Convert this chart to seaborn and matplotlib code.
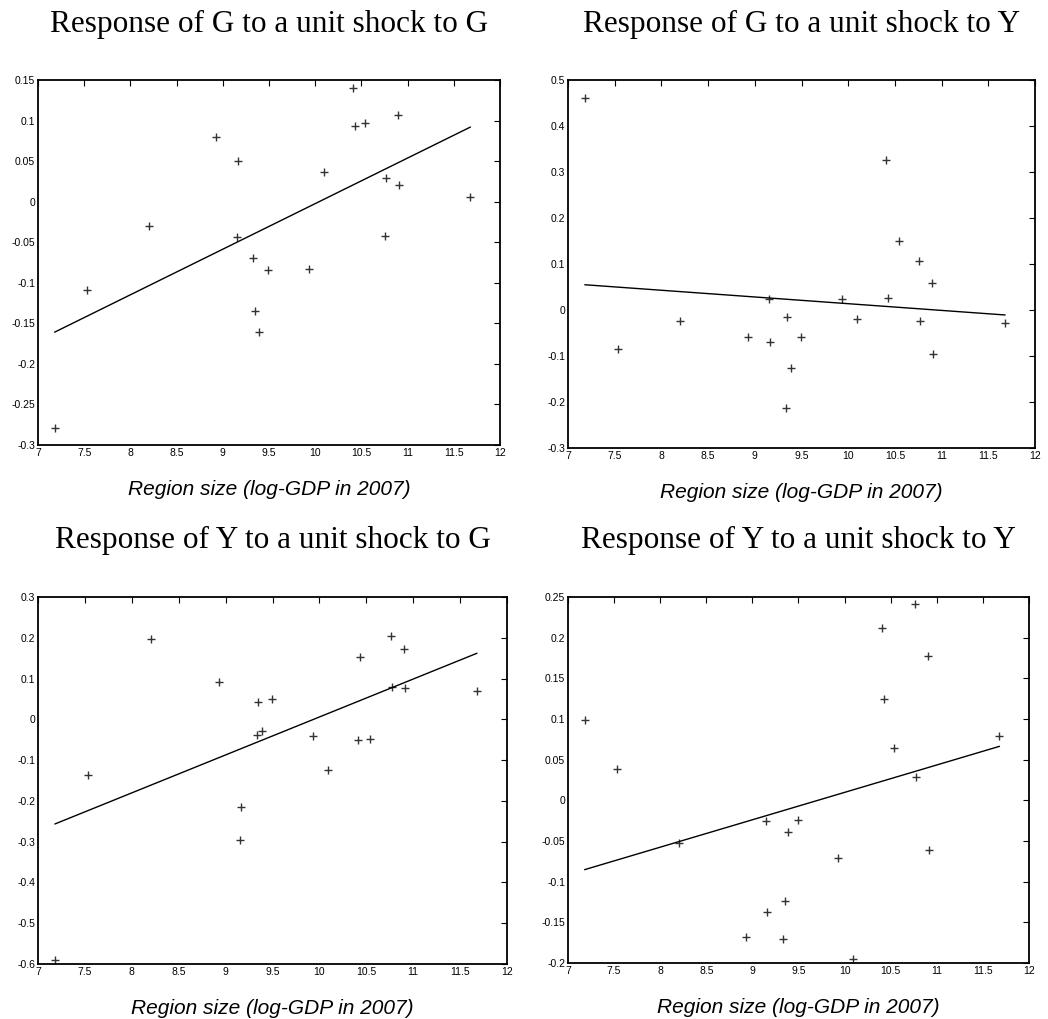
import pandas as pd
import seaborn as sns
import matplotlib.pyplot as plt
from matplotlib.ticker import FuncFormatter, MultipleLocator

sns.set_theme(style="white")
plt.rcParams['font.family'] = ['Liberation Sans', 'DejaVu Sans']
plt.rcParams['text.color'] = 'black'
plt.rcParams['axes.labelcolor'] = 'black'

# log-GDP in 2007 of each region (same regions in every panel)
region_size = [7.18, 7.53, 8.20, 8.93, 9.15, 9.16, 9.33, 9.35, 9.39, 9.49,
               9.93, 10.09, 10.41, 10.43, 10.54, 10.76, 10.77, 10.90, 10.91, 11.68]

resp_g_to_g = [-0.279, -0.109, -0.030, 0.080, -0.043, 0.050, -0.070, -0.135, -0.161, -0.084,
               -0.083, 0.036, 0.140, 0.093, 0.097, -0.042, 0.029, 0.107, 0.020, 0.006]
resp_g_to_y = [0.461, -0.085, -0.024, -0.058, 0.024, -0.069, -0.213, -0.015, -0.127, -0.058,
               0.025, -0.020, 0.325, 0.027, 0.149, 0.106, -0.023, 0.059, -0.096, -0.028]
resp_y_to_g = [-0.589, -0.137, 0.196, 0.092, -0.297, -0.214, -0.039, 0.043, -0.028, 0.051,
               -0.042, -0.124, -0.051, 0.153, -0.049, 0.204, 0.079, 0.173, 0.078, 0.070]
resp_y_to_y = [0.099, 0.038, -0.053, -0.168, -0.025, -0.137, -0.170, -0.124, -0.039, -0.024,
               -0.071, -0.195, 0.212, 0.125, 0.064, 0.241, 0.029, 0.178, -0.061, 0.079]

titles = ["Response of G to a unit shock to G", "Response of G to a unit shock to Y",
          "Response of Y to a unit shock to G", "Response of Y to a unit shock to Y"]
y_limits = [(-0.3, 0.15), (-0.3, 0.5), (-0.6, 0.3), (-0.2, 0.25)]
y_steps = [0.05, 0.1, 0.1, 0.05]
xlabel = "Region size (log-GDP in 2007)"

W, H = 1048, 1019
# axes boxes in pixels: left, top, right, bottom
boxes = [(38, 80, 500, 445), (568, 80, 1035, 448),
         (38, 597, 507, 964), (568, 597, 1029, 963)]
title_y = [24, 24, 540, 540]

fig = plt.figure(figsize=(W / 100, H / 100), dpi=100)
fmt = FuncFormatter(lambda v, p: "%g" % round(v, 4))

for i, resp in enumerate([resp_g_to_g, resp_g_to_y, resp_y_to_g, resp_y_to_y]):
    l, t, r, b = boxes[i]
    ax = fig.add_axes([l / W, 1 - b / H, (r - l) / W, (b - t) / H])
    df = pd.DataFrame({"size": region_size, "resp": resp})
    sns.regplot(data=df, x="size", y="resp", ax=ax, ci=None, marker="+", color="black",
                scatter_kws={"s": 28, "linewidths": 1.0},
                line_kws={"linewidth": 1.0})
    ax.set_xlim(7, 12)
    ax.set_ylim(*y_limits[i])
    ax.xaxis.set_major_locator(MultipleLocator(0.5))
    ax.yaxis.set_major_locator(MultipleLocator(y_steps[i]))
    ax.xaxis.set_major_formatter(fmt)
    ax.yaxis.set_major_formatter(fmt)
    ax.tick_params(direction="in", top=True, right=True, length=4, width=0.8,
                   labelsize=7.5, pad=2, colors="black")
    for s in ax.spines.values():
        s.set_color("black")
        s.set_linewidth(1.3)
    ax.set_ylabel("")
    ax.set_xlabel(xlabel, fontsize=15, style="italic", labelpad=16)
    fig.text((l + r) / 2 / W, 1 - title_y[i] / H, titles[i], ha="center", va="center",
             fontsize=22.5, family="Liberation Serif")

fig.savefig("out.png", dpi=100, facecolor="white")
